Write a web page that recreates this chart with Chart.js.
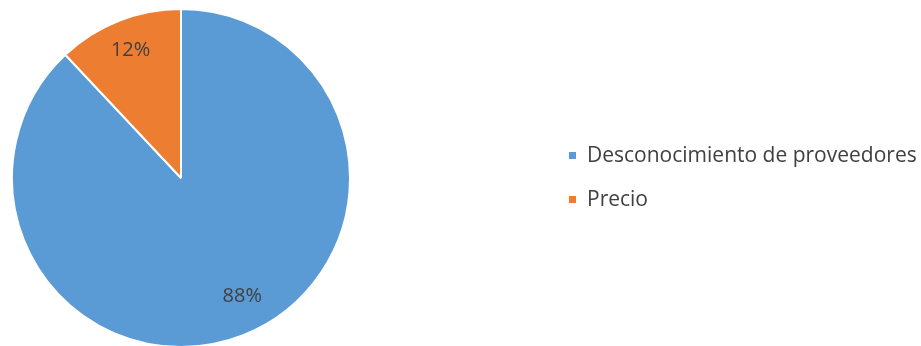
<!DOCTYPE html>
<html>
<head>
<meta charset="utf-8">
<script src="https://cdn.jsdelivr.net/npm/chart.js@4/dist/chart.umd.min.js"></script>
<style>
  html, body { margin: 0; padding: 0; background: #ffffff; overflow: hidden; }
  #wrap { width: 921px; height: 346px; overflow: hidden; }
</style>
</head>
<body>
<div id="wrap"><canvas id="pieChart" width="921" height="348"></canvas></div>
<script>
const categories = ['Desconocimiento de proveedores', 'Precio'];
const shares = [88, 12];
const pctLabels = ['88%', '12%'];
const sliceColors = ['#5B9BD5', '#ED7D31'];

const FONT = '"Open Sans", "Liberation Sans", sans-serif';
const TEXT_COLOR = '#404040';

// slice labels, placed along each slice's middle angle
const sliceLabels = {
    id: 'sliceLabels',
    afterDatasetsDraw(chart) {
        const ctx = chart.ctx;
        const meta = chart.getDatasetMeta(0);
        ctx.save();
        ctx.font = '20px ' + FONT;
        ctx.fillStyle = TEXT_COLOR;
        ctx.textAlign = 'center';
        ctx.textBaseline = 'middle';
        meta.data.forEach((arc, i) => {
            // excel nudges the big slice's label a bit toward its centre line
            const mid = (arc.startAngle + arc.endAngle) / 2 - (i === 0 ? 0.1 : 0);
            const r = arc.outerRadius * (i === 0 ? 0.79 : 0.81);
            ctx.fillText(pctLabels[i], arc.x + Math.cos(mid) * r, arc.y + Math.sin(mid) * r);
        });
        ctx.restore();
    }
};

// legend on the right, drawn by hand
const sideLegend = {
    id: 'sideLegend',
    afterDraw(chart) {
        const ctx = chart.ctx;
        ctx.save();
        ctx.font = '21px ' + FONT;
        ctx.textBaseline = 'middle';
        categories.forEach((name, i) => {
            const y = 155 + i * 44;
            ctx.fillStyle = sliceColors[i];
            ctx.fillRect(569, y - 3, 7, 7);
            ctx.fillStyle = TEXT_COLOR;
            ctx.fillText(name, 587, y + 1);
        });
        ctx.restore();
    }
};

const ctx = document.getElementById('pieChart').getContext('2d');
const myChart = new Chart(ctx, {
    type: 'pie',
    data: {
        labels: categories,
        datasets: [{
            data: shares,
            backgroundColor: sliceColors,
            borderColor: '#ffffff',
            borderWidth: 2
        }]
    },
    options: {
        responsive: false,
        animation: false,
        layout: { padding: { left: 11, top: 8, right: 570, bottom: 0 } },
        plugins: {
            legend: { display: false },
            tooltip: { enabled: false }
        }
    },
    plugins: [sliceLabels, sideLegend]
});
</script>
</body>
</html>
